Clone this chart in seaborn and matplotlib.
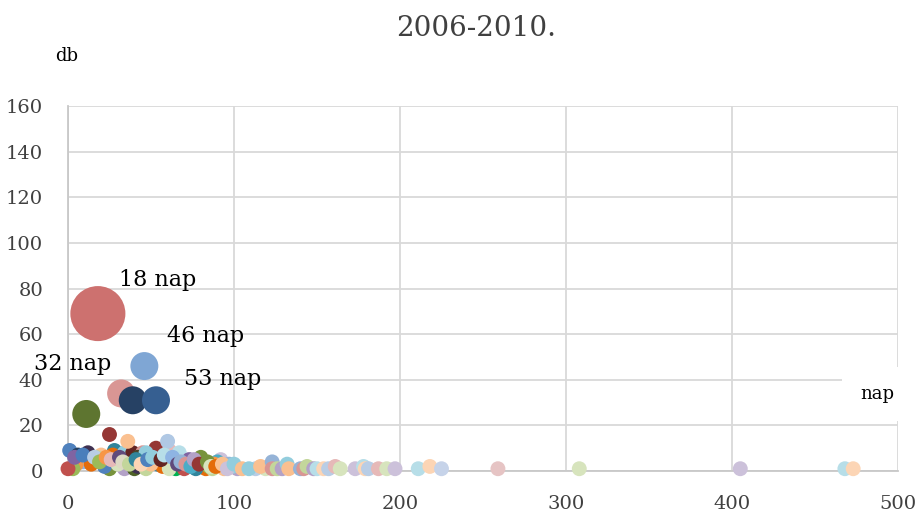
import matplotlib
matplotlib.use("Agg")
import matplotlib.pyplot as plt
import seaborn as sns
import pandas as pd

# ---- data (days = x, count = y, bubble value, colour) ----
days = [18, 46, 32, 11,
        1, 6, 12, 7, 14, 9, 20, 17, 28, 27, 34, 39, 45, 42,
        14, 5, 3, 0, 34, 25, 22, 30, 40, 42, 47, 25, 36,
        53, 61, 67, 47, 60, 62, 80, 73, 92, 90, 78, 82, 83, 65, 54, 57, 50, 61, 70,
        75, 77, 85, 88, 97, 87, 94, 102, 99,
        4, 9, 16, 19, 23, 26, 31, 33, 37, 41, 44, 48, 51, 56, 58, 63,
        66, 68, 71, 74, 76, 79, 84, 86, 89, 93, 96, 100, 105, 113, 119,
        109, 116, 123, 123, 126, 129, 132, 133, 140, 142, 144, 148, 150, 154, 157,
        161, 164, 173, 178, 179, 181, 187, 192, 197, 211, 218, 225, 259, 308, 405,
        468, 473, 39, 53]
counts = [69, 46, 34, 25,
          9, 7, 8, 5, 5, 4, 7, 6, 9, 7, 8, 8, 8, 6,
          3, 3, 1, 1, 1, 1, 2, 3, 1, 2, 1, 16, 13,
          10, 9, 8, 8, 13, 4, 6, 5, 5, 4, 3, 2, 1, 1, 3, 2, 3, 1, 1,
          2, 1, 2, 3, 3, 1, 1, 1, 2,
          6, 7, 6, 4, 6, 5, 6, 4, 3, 5, 3, 5, 6, 5, 7, 6,
          3, 4, 3, 2, 5, 3, 4, 2, 2, 3, 1, 3, 1, 1, 1,
          1, 2, 4, 1, 1, 1, 3, 1, 1, 1, 2, 1, 1, 1, 1,
          2, 1, 1, 2, 1, 1, 1, 1, 1, 1, 2, 1, 1, 1, 1,
          1, 1, 31, 31]
bubble = [16, 4, 4, 4] + [1] * 118 + [4, 4]
colors = ["#CD716F", "#7FA6D4", "#D99694", "#5E7530",
          "#4F81BD", "#254061", "#3F3151", "#632523", "#95B3D7", "#8EB4E3", "#FAC090", "#C3D69B",
          "#31859C", "#E46C0A", "#93CDDD", "#632523", "#D99694", "#4A452A",
          "#E46C0A", "#F79646", "#9BBB59", "#C0504D", "#B3A2C7", "#77933C", "#4F81BD", "#D7E4BD",
          "#4F6228", "#3F3151", "#C3D69B", "#953735", "#FAC090",
          "#953735", "#E6B9B8", "#B7DEE8", "#93CDDD", "#B0C8E4", "#B3A2C7", "#77933C", "#8064A2",
          "#CCC1DA", "#4BACC6", "#17375E", "#632523", "#E46C0A", "#00B050", "#31859C", "#E46C0A",
          "#FAC090", "#D7E4BD", "#C0504D",
          "#4F6228", "#31859C", "#9BBB59", "#F79646", "#95B3D7", "#C3D69B", "#FAC090", "#B3A2C7",
          "#93CDDD",
          "#8064A2", "#4A7EBB", "#B9CDE5", "#9BBB59", "#F79646", "#E6B9B8", "#604A7B", "#DDD9C3",
          "#C3D69B", "#31859C", "#FCD5B5", "#4F81BD", "#93CDDD", "#632523", "#B7DEE8", "#8EB4E3",
          "#604A7B", "#95B3D7", "#D99694", "#4BACC6", "#B3A2C7", "#953735", "#77933C", "#D7E4BD",
          "#E46C0A", "#FAC090", "#CCC1DA", "#93CDDD", "#FAC090", "#B9CDE5", "#D7E4BD",
          "#93CDDD", "#FAC090", "#95B3D7", "#D99694", "#C3D69B", "#B3A2C7", "#93CDDD", "#FAC090",
          "#95B3D7", "#D99694", "#C3D69B", "#B3A2C7", "#B7DEE8", "#FCD5B5", "#B9CDE5",
          "#E6B9B8", "#D7E4BD", "#CCC1DA", "#B7DEE8", "#FCD5B5", "#B9CDE5", "#E6B9B8", "#D7E4BD",
          "#CCC1DA", "#B7DEE8", "#FCD5B5", "#C6D3E9", "#E6C4C4", "#D7E4BD", "#CCC1DA",
          "#B7DEE8", "#FCD5B5", "#264164", "#365F91"]
labelled_idx = [0, 1, 2, len(days) - 1]
label_offsets = [(43, 24), (44, 22), (-35, 21), (48, 15)]
x_ticks = [0, 100, 200, 300, 400, 500]
y_ticks = [0, 20, 40, 60, 80, 100, 120, 140, 160]

ids = [f"s{i}" for i in range(len(days))]
df = pd.DataFrame({"nap": days, "db": counts, "b": bubble, "id": ids})

sns.set_theme(style="white")
plt.rcParams["font.family"] = ["DejaVu Serif"]

fig = plt.figure(figsize=(9.18, 5.15), dpi=100)
ax = fig.add_axes([68 / 918, 44 / 515, 830 / 918, 365 / 515])

sns.scatterplot(data=df, x="nap", y="db", hue="id", hue_order=ids, palette=colors,
                size="b", sizes=(115, 1570), size_norm=(1, 16), legend=False,
                linewidth=0, alpha=1, clip_on=False, ax=ax, zorder=3)

ax.set_xlim(0, 500)
ax.set_ylim(0, 160)
ax.set_xticks(x_ticks)
ax.set_yticks(y_ticks)
ax.set_xlabel("")
ax.set_ylabel("")
ax.grid(True, color="#D9D9D9", linewidth=1.3)
ax.set_axisbelow(True)
for side in ["top", "right"]:
    ax.spines[side].set_visible(False)
for side in ["left", "bottom"]:
    ax.spines[side].set_color("#C8C8C8")
    ax.spines[side].set_linewidth(1.3)
ax.tick_params(axis="both", which="both", length=0, bottom=False, left=False,
               labelsize=14, colors="#404040")
ax.tick_params(axis="y", pad=18)
ax.tick_params(axis="x", pad=17)

for i, off in zip(labelled_idx, label_offsets):
    ax.annotate(f"{days[i]} nap", (days[i], counts[i]), xytext=off, textcoords="offset points",
                ha="center", va="center", fontsize=16, color="black", zorder=5,
                annotation_clip=False)

fig.text(476 / 918, 1 - 28 / 515, "2006-2010.", ha="center", va="center",
         fontsize=20, color="#404040")
fig.text(67 / 918, 1 - 56 / 515, "db", ha="center", va="center", fontsize=13, color="black")
fig.text(877 / 918, 1 - 394 / 515, "nap", ha="center", va="center", fontsize=13, color="black",
         bbox=dict(boxstyle="square,pad=1.0", facecolor="white", edgecolor="none"))

fig.savefig("out.png", dpi=100)
